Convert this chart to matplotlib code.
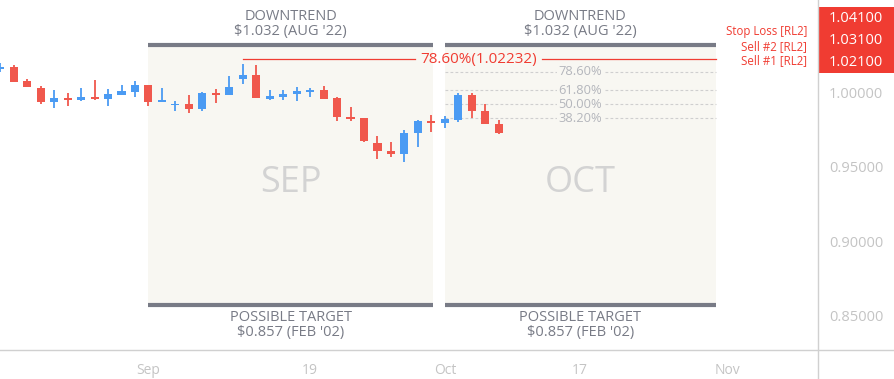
import matplotlib
matplotlib.use("Agg")
import matplotlib.pyplot as plt
from matplotlib.lines import Line2D
from matplotlib.patches import Rectangle
import matplotlib.transforms as mtransforms

plt.rcParams['font.family'] = ['Open Sans', 'DejaVu Sans']

# daily candles (bar index 0 = 1 Sep)
idx = list(range(-11, 27))
opens = [1.0158, 1.0168, 1.0074, 1.0027, 0.9933, 0.9960, 0.9950, 0.9969, 0.9957, 0.9984,
         1.0004, 1.0049, 0.9937, 0.9913, 0.9922, 0.9890, 0.9995, 0.9984, 1.0091, 1.0116,
         0.9957, 0.9970, 0.9987, 1.0004, 1.0015, 0.9962, 0.9834, 0.9825, 0.9658, 0.9606,
         0.9584, 0.9725, 0.9809, 0.9794, 0.9814, 0.9982, 0.9874, 0.9785]
highs = [1.0197, 1.0183, 1.0089, 1.0042, 1.0015, 0.9993, 1.0029, 1.0083, 1.0022, 1.0049,
         1.0076, 1.0049, 1.0029, 0.9942, 0.9982, 1.0002, 1.0022, 1.0109, 1.0190, 1.0183,
         1.0015, 1.0015, 1.0036, 1.0027, 1.0042, 0.9970, 0.9899, 0.9826, 0.9707, 0.9666,
         0.9747, 0.9814, 0.9848, 0.9841, 0.9997, 0.9993, 0.9922, 0.9814]
lows = [1.0136, 1.0070, 1.0033, 0.9924, 0.9897, 0.9910, 0.9942, 0.9946, 0.9910, 0.9980,
        0.9970, 0.9910, 0.9937, 0.9875, 0.9863, 0.9872, 0.9930, 0.9984, 1.0058, 0.9960,
        0.9948, 0.9950, 0.9942, 0.9966, 0.9953, 0.9809, 0.9805, 0.9668, 0.9554, 0.9566,
        0.9534, 0.9635, 0.9732, 0.9760, 0.9803, 0.9828, 0.9787, 0.9720]
closes = [1.0172, 1.0071, 1.0034, 0.9933, 0.9960, 0.9950, 0.9969, 0.9957, 0.9989, 1.0009,
          1.0049, 0.9937, 0.9946, 0.9922, 0.9890, 0.9995, 0.9984, 1.0036, 1.0116, 0.9960,
          0.9975, 0.9989, 1.0009, 1.0015, 0.9957, 0.9832, 0.9823, 0.9675, 0.9604, 0.9584,
          0.9725, 0.9807, 0.9794, 0.9819, 0.9982, 0.9872, 0.9787, 0.9729]

tick_pos = [0, 12, 22, 32, 43]
tick_labels = ['Sep', '19', 'Oct', '17', 'Nov']
y_ticks = [0.85, 0.90, 0.95, 1.00]

month_names = ['SEP', 'OCT']
month_spans = [(0, 21.1), (22, 42.1)]
box_top = 1.032
box_bottom = 0.857
top_label = "DOWNTREND\n$1.032 (AUG '22)"
bottom_label = "POSSIBLE TARGET\n$0.857 (FEB '02)"

fib_names = ['38.20%', '50.00%', '61.80%', '78.60%']
fib_prices = [0.9826, 0.9921, 1.0013, 1.0138]
fib_start, fib_end = 22, 42.1

key_level = 1.02232
key_label = '78.60%(1.02232)'
key_start = 7

order_names = ['Stop Loss [RL2]', 'Sell #2 [RL2]', 'Sell #1 [RL2]']
order_prices = [1.041, 1.031, 1.021]

UP = '#4b9bf3'
DOWN = '#f0584d'
RED = '#f03c32'
GREY = '#787b86'
BG = '#f8f7f2'
LIGHT = '#c3c3c3'

fig = plt.figure(figsize=(8.94, 3.79), dpi=100)
ax = fig.add_axes([0, 29 / 379, 818 / 894, 350 / 379])
ax.set_xlim(-11.02, 49.7)
ax.set_ylim(0.82705, 1.06195)

# month boxes
for name, (x0, x1) in zip(month_names, month_spans):
    ax.add_patch(Rectangle((x0, box_bottom), x1 - x0, box_top - box_bottom,
                           facecolor=BG, edgecolor='none', zorder=0))
    ax.plot([x0, x1], [box_top, box_top], color=GREY, lw=3, solid_capstyle='butt', zorder=2)
    ax.plot([x0, x1], [box_bottom, box_bottom], color=GREY, lw=3, solid_capstyle='butt', zorder=2)
    mid = (x0 + x1) / 2
    ax.text(mid, (box_top + box_bottom) / 2 - 0.0055, name, ha='center', va='center',
            fontsize=26, color='#d3d3d3', zorder=1)
    ax.annotate(top_label, (mid, box_top), xytext=(0, 4), textcoords='offset points',
                ha='center', va='bottom', fontsize=10.5, color=GREY, linespacing=1.05,
                annotation_clip=False)
    ax.annotate(bottom_label, (mid, box_bottom), xytext=(0, -3), textcoords='offset points',
                ha='center', va='top', fontsize=10.5, color=GREY, linespacing=1.05,
                annotation_clip=False)

# fib levels
for name, p in zip(fib_names, fib_prices):
    ax.plot([fib_start, fib_end], [p, p], color='#cfcfcf', lw=0.8,
            linestyle=(0, (2.5, 2)), zorder=1)
    ax.text((fib_start + fib_end) / 2, p, name, ha='center', va='center', fontsize=9.3,
            color='#b4b6bc', zorder=2,
            bbox=dict(facecolor=BG, edgecolor='none', pad=1.2))

# 78.6% key level
ax.plot([key_start, 19.8], [key_level, key_level], color=RED, lw=0.9, zorder=3)
ax.plot([29.2, fib_end], [key_level, key_level], color=RED, lw=0.9, zorder=3)
ax.text(24.5, key_level, key_label, ha='center', va='center', fontsize=11, color=RED, zorder=3)

# candles
for i, o, h, l, c in zip(idx, opens, highs, lows, closes):
    col = UP if c >= o else DOWN
    ax.vlines(i, l, h, color=col, lw=1.3, zorder=4)
    bot = min(o, c)
    hgt = max(abs(c - o), 0.0009)
    ax.bar(i, hgt, bottom=bot, width=0.6, color=col, zorder=5)

# order labels
for name, p in zip(order_names, order_prices):
    ax.annotate(name, (1, p), xycoords=('axes fraction', 'data'), xytext=(-8, 0),
                textcoords='offset points', ha='right', va='center', fontsize=8.3,
                color=RED, annotation_clip=False)

# price axis
trans = mtransforms.blended_transform_factory(ax.transAxes, ax.transData)
ax.add_patch(Rectangle((1.0, 1.01275), 77 / 818, 1.05745 - 1.01275, transform=trans,
                       facecolor=RED, edgecolor='none', clip_on=False, zorder=6))
for k, p in enumerate(sorted(order_prices)):
    ax.text(1 + 11 / 818, 1.0199 + k * 0.01495, '%.5f' % p, transform=trans,
            ha='left', va='center', fontsize=10.5, color='white', zorder=7)

ax.yaxis.tick_right()
ax.set_yticks(y_ticks)
ax.set_yticklabels(['%.5f' % v for v in y_ticks])
ax.tick_params(axis='y', length=0, pad=8, labelsize=10.5, labelcolor='#c4c4c4')
ax.set_xticks(tick_pos)
ax.set_xticklabels(tick_labels)
ax.tick_params(axis='x', length=0, pad=9, labelsize=10, labelcolor='#c4c4c4')

for s in ax.spines.values():
    s.set_visible(False)

fig.add_artist(Line2D([0, 1], [29 / 379, 29 / 379], color='#d0d0d0', lw=1))
fig.add_artist(Line2D([818 / 894, 818 / 894], [0, 1], color='#d0d0d0', lw=1))

fig.savefig('out.png', dpi=100, facecolor='white')
